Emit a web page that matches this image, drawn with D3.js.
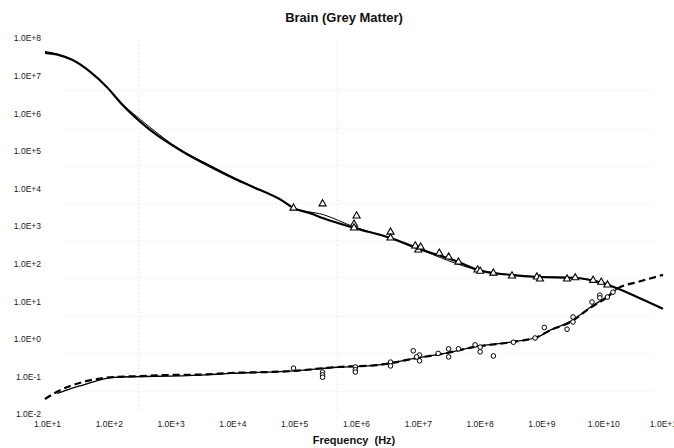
<!DOCTYPE html>
<html>
<head>
<meta charset="utf-8">
<script src="https://cdn.jsdelivr.net/npm/d3@7"></script>
<style>
        body { margin: 0; background: #fff; }
        text { font-family: "Liberation Sans", Arial, sans-serif; }
</style>
</head>
<body>
<svg id="chart" width="674" height="448"></svg>
<script>
// Brain (Grey Matter) - permittivity and conductivity against frequency
// values

const xTicks = [1e1, 1e2, 1e3, 1e4, 1e5, 1e6, 1e7, 1e8, 1e9, 1e10, 1e11];
const yTicks = [1e-2, 1e-1, 1e0, 1e1, 1e2, 1e3, 1e4, 1e5, 1e6, 1e7, 1e8];

// model permittivity (thick solid)
const permFreq  = [1e1, 1.7e1, 2.8e1, 5.4e1, 1e2, 1.8e2, 3.5e2, 6.5e2, 1.17e3, 1.9e3, 4.2e3, 1.1e4, 2.1e4, 7.1e4, 1.05e5, 1.95e5, 3.2e5, 1e6, 3.9e6, 1.07e7, 4.9e7, 1e8, 3.4e8, 9.3e8, 3.5e9, 1.07e10, 1.8e10, 3.8e10, 1e11];
const permValue = [4.0e7, 3.5e7, 2.6e7, 1.26e7, 5.0e6, 1.66e6, 5.9e5, 2.6e5, 1.38e5, 8.5e4, 4.2e4, 1.9e4, 1.17e4, 4.6e3, 3.0e3, 2.2e3, 1.6e3, 890, 480, 257, 110, 68, 50, 44, 42, 30, 22, 13, 6.3];

// literature permittivity (thin solid)
const permFreq2  = [1e1, 1.7e1, 2.8e1, 5.4e1, 1e2, 1.8e2, 3.5e2, 6.5e2, 1.17e3, 1.9e3, 4.2e3, 1.1e4, 2.1e4, 7.1e4, 1.05e5, 3.2e5, 1e6, 3.9e6, 1.07e7, 1e8, 3.4e8, 9.3e8, 3.5e9, 1.07e10, 1.5e10];
const permValue2 = [4.4e7, 3.6e7, 2.6e7, 1.26e7, 5.0e6, 1.75e6, 6.8e5, 3.0e5, 1.45e5, 8.8e4, 4.5e4, 2.0e4, 1.2e4, 4.6e3, 3.0e3, 2.0e3, 950, 470, 250, 68, 50, 45, 42, 31, 26];

// model conductivity (thick dashed)
const condFreq  = [1e1, 1.56e1, 2.5e1, 4.1e1, 6.9e1, 1.26e2, 3.5e2, 8.1e2, 3.3e3, 1e4, 9.3e4, 5.4e5, 2.4e6, 1.07e7, 3.2e7, 8.5e7, 3.4e8, 9.3e8, 1.5e9, 3.2e9, 6.6e9, 1.26e10, 1.86e10, 3.8e10, 1e11];
const condValue = [0.025, 0.039, 0.055, 0.071, 0.085, 0.096, 0.102, 0.108, 0.112, 0.123, 0.138, 0.178, 0.20, 0.31, 0.42, 0.60, 0.81, 1.12, 1.7, 2.8, 6.6, 12.9, 22, 32, 50];

// literature conductivity (thin solid)
const condFreq2  = [1.56e1, 2.5e1, 4.1e1, 6.9e1, 1.26e2, 3.3e3, 1e4, 9.3e4, 5.4e5, 2.4e6, 1.07e7, 3.2e7, 8.5e7, 3.4e8, 9.3e8, 1.5e9, 3.2e9, 6.6e9, 1.26e10, 1.86e10];
const condValue2 = [0.035, 0.046, 0.059, 0.076, 0.094, 0.108, 0.12, 0.138, 0.175, 0.20, 0.31, 0.42, 0.60, 0.82, 1.1, 1.7, 2.9, 6.8, 13.5, 22];

// measured permittivity (triangles)
const triFreq  = [1.05e5, 3.1e5, 1.1e6, 1e6, 1e6, 3.9e6, 3.9e6, 9.8e6, 1.1e7, 1.2e7, 2.4e7, 3.4e7, 4.9e7, 1e8, 1.1e8, 1.8e8, 3.6e8, 9.1e8, 1.02e9, 2.8e9, 3.8e9, 7.4e9, 1e10, 1.26e10];
const triValue = [3000, 3900, 1850, 1120, 890, 690, 480, 295, 230, 275, 190, 150, 110, 68, 63, 56, 47, 44, 39, 39, 42, 36, 32, 27];

// measured conductivity (circles)
const cirFreq  = [1.05e5, 3.1e5, 3.1e5, 3.1e5, 1.05e6, 1.05e6, 1.05e6, 3.9e6, 3.9e6, 9.1e6, 1.15e7, 1.15e7, 1.03e7, 2.3e7, 3.4e7, 3.4e7, 4.9e7, 9.1e7, 1.1e8, 1.1e8, 1.8e8, 3.8e8, 8.5e8, 1.2e9, 2.8e9, 3.5e9, 3.5e9, 7.1e9, 9.5e9, 9.5e9, 1.26e10, 1.55e10];
const cirValue = [0.166, 0.13, 0.11, 0.095, 0.178, 0.15, 0.13, 0.24, 0.19, 0.48, 0.37, 0.26, 0.33, 0.41, 0.54, 0.33, 0.54, 0.69, 0.60, 0.45, 0.35, 0.81, 1.05, 2.0, 1.8, 3.8, 2.8, 9.5, 14.5, 12.3, 12.9, 17.4];

const svg = d3.select("#chart");

const x = d3.scaleLog().domain([1e1, 1e11]).range([45, 663]);
const y = d3.scaleLog().domain([1e-2, 1e8]).range([414, 38]);

function expLabel(v) {
        const e = Math.round(Math.log10(v));
        return "1.0E" + (e < 0 ? "-" : "+") + Math.abs(e);
}

// faint dotted background lines, as on the scanned page
svg.append("g")
        .selectAll("line")
        .data(yTicks.slice(1, -1))
        .join("line")
        .attr("x1", x(2e1)).attr("x2", x(7e10))
        .attr("y1", d => y(d) + 15).attr("y2", d => y(d) + 15)
        .attr("stroke", "#e0e0e0")
        .attr("stroke-width", 0.8)
        .attr("stroke-dasharray", "1,3");

svg.append("g")
        .selectAll("line")
        .data([3.3e2, 5.4e5])
        .join("line")
        .attr("x1", d => x(d)).attr("x2", d => x(d))
        .attr("y1", 40).attr("y2", 410)
        .attr("stroke", "#d4d4d4")
        .attr("stroke-width", 0.8)
        .attr("stroke-dasharray", "1,3");

// axes: labels only, no lines
const xAxis = svg.append("g")
        .attr("transform", "translate(0,418)")
        .call(d3.axisBottom(x).tickValues(xTicks).tickFormat(expLabel).tickSize(0));

const yAxis = svg.append("g")
        .attr("transform", "translate(41,0)")
        .call(d3.axisLeft(y).tickValues(yTicks).tickFormat(expLabel).tickSize(0));

[xAxis, yAxis].forEach(g => {
        g.select(".domain").remove();
        g.selectAll("text")
                .attr("font-family", "Liberation Sans, Arial, sans-serif")
                .attr("font-size", "8.5px")
                .attr("fill", "#1a1a1a");
});
xAxis.selectAll("text").attr("dy", "0.71em").attr("dx", "2");
yAxis.selectAll("text").attr("x", 0).attr("dy", "0.35em");

// curves
const line = d3.line()
        .x(d => x(d[0]))
        .y(d => y(d[1]))
        .curve(d3.curveMonotoneX);

function drawLine(freq, value, width, dash) {
        svg.append("path")
                .datum(d3.zip(freq, value))
                .attr("d", line)
                .attr("fill", "none")
                .attr("stroke", "#000")
                .attr("stroke-width", width)
                .attr("stroke-linejoin", "round")
                .attr("stroke-dasharray", dash);
}

drawLine(permFreq2, permValue2, 1, null);
drawLine(condFreq2, condValue2, 1.3, null);
drawLine(permFreq, permValue, 2.2, null);
drawLine(condFreq, condValue, 2.2, "7,4");

// measured points
const tri = d3.symbol().type(d3.symbolTriangle).size(22);

svg.append("g")
        .selectAll("path")
        .data(d3.zip(triFreq, triValue))
        .join("path")
        .attr("d", tri)
        .attr("transform", d => "translate(" + x(d[0]) + "," + y(d[1]) + ")")
        .attr("fill", "#fff")
        .attr("stroke", "#000")
        .attr("stroke-width", 1.1);

svg.append("g")
        .selectAll("circle")
        .data(d3.zip(cirFreq, cirValue))
        .join("circle")
        .attr("cx", d => x(d[0]))
        .attr("cy", d => y(d[1]))
        .attr("r", 2.3)
        .attr("fill", "#fff")
        .attr("stroke", "#000")
        .attr("stroke-width", 1);

// titles
svg.append("text")
        .attr("x", 344)
        .attr("y", 22)
        .attr("text-anchor", "middle")
        .attr("font-size", "13px")
        .attr("font-weight", "bold")
        .attr("fill", "#111")
        .text("Brain (Grey Matter)");

svg.append("text")
        .attr("x", 354)
        .attr("y", 444)
        .attr("text-anchor", "middle")
        .attr("font-size", "11px")
        .attr("font-weight", "bold")
        .attr("fill", "#111")
        .style("white-space", "pre")
        .text("Frequency  (Hz)");
</script>
</body>
</html>
